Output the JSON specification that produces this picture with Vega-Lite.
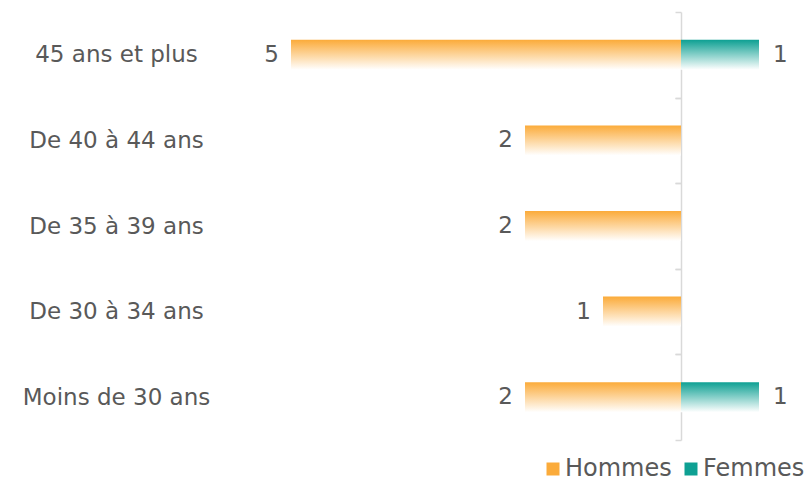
{
  "$schema": "https://vega.github.io/schema/vega-lite/v6.json",
  "autosize": "none",
  "width": 468,
  "height": 428,
  "padding": {"left": 291, "top": 12, "right": 47, "bottom": 41},
  "background": "white",
  "config": {"view": {"stroke": null}, "font": "DejaVu Sans"},
  "data": {"values": [
    {"age": "45 ans et plus", "sexe": "Hommes", "n": 5},
    {"age": "45 ans et plus", "sexe": "Femmes", "n": 1},
    {"age": "De 40 à 44 ans", "sexe": "Hommes", "n": 2},
    {"age": "De 35 à 39 ans", "sexe": "Hommes", "n": 2},
    {"age": "De 30 à 34 ans", "sexe": "Hommes", "n": 1},
    {"age": "Moins de 30 ans", "sexe": "Hommes", "n": 2},
    {"age": "Moins de 30 ans", "sexe": "Femmes", "n": 1}
  ]},
  "transform": [{"calculate": "datum.sexe === 'Hommes' ? -datum.n : datum.n", "as": "v"}],
  "encoding": {
    "y": {"field": "age", "type": "nominal",
      "sort": ["45 ans et plus", "De 40 à 44 ans", "De 35 à 39 ans", "De 30 à 34 ans", "Moins de 30 ans"],
      "scale": {"paddingInner": 0.65, "paddingOuter": 0.325},
      "title": null,
      "axis": null
    },
    "x": {"field": "v", "type": "quantitative", "scale": {"domain": [-5, 1], "nice": false}, "axis": null}
  },
  "layer": [
    {"mark": {"type": "bar", "opacity": 0},
     "encoding": {
      "y": {"field": "age", "type": "nominal",
        "sort": ["45 ans et plus", "De 40 à 44 ans", "De 35 à 39 ans", "De 30 à 34 ans", "Moins de 30 ans"],
        "title": null,
        "axis": {"orient": "left", "offset": -390, "domainColor": "#d9d9d9", "domainWidth": 1.5, "tickColor": "#d9d9d9", "tickWidth": 1.5, "tickSize": 6, "tickBand": "center", "tickOffset": -42.8, "labelOffset": 42.8,
          "labelAlign": "center", "labelPadding": 559, "labelFontSize": 23, "labelColor": "#595959", "labelFont": "DejaVu Sans", "labelLimit": 0}},
      "color": {"field": "sexe", "type": "nominal",
        "scale": {"domain": ["Hommes", "Femmes"], "range": ["#FBAB3A", "#0EA093"]},
        "legend": {"title": null, "orient": "none", "legendX": 250, "legendY": 445, "direction": "horizontal", "padding": 0, "offset": 0,
          "labelFontSize": 24, "labelColor": "#595959", "labelFont": "DejaVu Sans", "labelOffset": 0, "columnPadding": 7,
          "symbolType": "square", "symbolSize": 169, "symbolStrokeWidth": 0, "symbolOpacity": 1,
          "encode": {"symbols": {"update": {"opacity": {"value": 1}, "fillOpacity": {"value": 1}}}}
        }}}},
    {"transform": [{"filter": "datum.sexe === 'Hommes'"}],
     "mark": {"type": "bar", "fill": {"gradient": "linear", "x1": 0, "y1": 0, "x2": 0, "y2": 1, "stops": [{"offset": 0, "color": "#FBAB3A"}, {"offset": 1, "color": "#ffffff"}]}}},
    {"transform": [{"filter": "datum.sexe === 'Femmes'"}],
     "mark": {"type": "bar", "fill": {"gradient": "linear", "x1": 0, "y1": 0, "x2": 0, "y2": 1, "stops": [{"offset": 0, "color": "#0EA093"}, {"offset": 1, "color": "#ffffff"}]}}},
    {"transform": [{"filter": "datum.sexe === 'Hommes'"}],
     "mark": {"type": "text", "align": "right", "baseline": "middle", "dx": -12, "fontSize": 23, "color": "#595959"},
     "encoding": {"text": {"field": "n", "type": "quantitative"}}},
    {"transform": [{"filter": "datum.sexe === 'Femmes'"}],
     "mark": {"type": "text", "align": "left", "baseline": "middle", "dx": 14, "fontSize": 23, "color": "#595959"},
     "encoding": {"text": {"field": "n", "type": "quantitative"},
       "y": {"field": "age", "type": "nominal",
        "sort": ["45 ans et plus", "De 40 à 44 ans", "De 35 à 39 ans", "De 30 à 34 ans", "Moins de 30 ans"],
        "title": null,
        "axis": {"orient": "left", "offset": -390, "domain": false, "labels": false, "tickColor": "#d9d9d9", "tickWidth": 1.5, "tickSize": 6, "tickBand": "center", "tickOffset": 42.8}}}}
  ],
  "resolve": {"axis": {"y": "independent"}}
}
